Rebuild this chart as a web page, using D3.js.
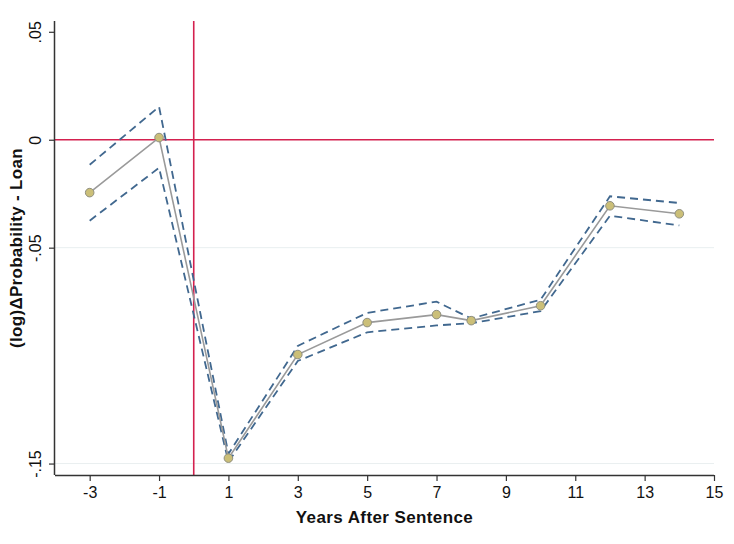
<!DOCTYPE html>
<html>
<head>
<meta charset="utf-8">
<script src="https://cdn.jsdelivr.net/npm/d3@7"></script>
<style>
  html, body { margin: 0; padding: 0; background: #fff; }
  svg { display: block; font-family: "Liberation Sans", Arial, Helvetica, sans-serif; }
</style>
</head>
<body>
<svg id="chart" width="734" height="544"></svg>
<script>
// Event-study estimates: years relative to sentence, point estimate, 95% CI
const years    = [-3, -1, 1, 3, 5, 7, 8, 10, 12, 14];
const estimate = [-0.0245, 0.0010, -0.1475, -0.0995, -0.0847, -0.0810, -0.0838, -0.0769, -0.0306, -0.0343];
const ciUpper  = [-0.0116, 0.0153, -0.1455, -0.0955, -0.0802, -0.0750, -0.0828, -0.0741, -0.0262, -0.0293];
const ciLower  = [-0.0375, -0.0130, -0.1492, -0.1025, -0.0892, -0.0860, -0.0850, -0.0794, -0.0352, -0.0397];

const xTicks = [-3, -1, 1, 3, 5, 7, 9, 11, 13, 15];
const yTicks = [0.05, 0, -0.05, -0.15];
const yTickLabels = [".05", "0", "-.05", "-.15"];
const yGrid = [-0.05, -0.15];

const svg = d3.select("#chart");
const plotLeft = 55, plotRight = 714, plotTop = 21, plotBottom = 475;

const x = d3.scaleLinear().domain([-4, 15]).range([plotLeft, plotRight]);
const y = d3.scaleLinear().domain([-0.1553, 0.0550]).range([plotBottom, plotTop]);

// light gridlines
svg.append("g").selectAll("line").data(yGrid).join("line")
  .attr("x1", plotLeft).attr("x2", plotRight)
  .attr("y1", d => y(d)).attr("y2", d => y(d))
  .attr("stroke", "#e9eff0").attr("stroke-width", 1);

// reference lines at zero
svg.append("line")
  .attr("x1", plotLeft).attr("x2", plotRight)
  .attr("y1", y(0)).attr("y2", y(0))
  .attr("stroke", "#d4214f").attr("stroke-width", 1.6);
svg.append("line")
  .attr("x1", x(0)).attr("x2", x(0))
  .attr("y1", plotTop).attr("y2", plotBottom)
  .attr("stroke", "#d4214f").attr("stroke-width", 1.6);

// confidence bounds
const seriesLine = vals => d3.line().x((d, i) => x(years[i])).y(d => y(d))(vals);
[ciUpper, ciLower].forEach(vals => {
  svg.append("path")
    .attr("d", seriesLine(vals))
    .attr("fill", "none")
    .attr("stroke", "#41688f")
    .attr("stroke-width", 1.8)
    .attr("stroke-dasharray", "8,5");
});

// point estimates
svg.append("path")
  .attr("d", seriesLine(estimate))
  .attr("fill", "none")
  .attr("stroke", "#9a9a9a")
  .attr("stroke-width", 1.6);

svg.append("g").selectAll("circle").data(estimate).join("circle")
  .attr("cx", (d, i) => x(years[i]))
  .attr("cy", d => y(d))
  .attr("r", 4.3)
  .attr("fill", "#cbbf78")
  .attr("stroke", "#8f8f80")
  .attr("stroke-width", 1);

// x axis
const xAxis = svg.append("g")
  .attr("transform", `translate(0,${plotBottom})`)
  .call(d3.axisBottom(x).tickValues(xTicks).tickFormat(d => String(d))
    .tickSize(6).tickSizeOuter(0).tickPadding(6));
xAxis.select(".domain").attr("stroke", "#333").attr("stroke-width", 1.5)
  .attr("d", `M${plotLeft},0.5H${plotRight}`);
xAxis.selectAll(".tick line").attr("stroke", "#333").attr("stroke-width", 1.2);
xAxis.selectAll(".tick text").attr("font-size", 16).attr("fill", "#111")
  .style("font-family", "Liberation Sans, Arial, sans-serif");

// y axis
const yAxis = svg.append("g")
  .attr("transform", `translate(${plotLeft},0)`)
  .call(d3.axisLeft(y).tickValues(yTicks)
    .tickFormat((d, i) => yTickLabels[i]).tickSize(6).tickSizeOuter(0));
yAxis.select(".domain").attr("stroke", "#333").attr("stroke-width", 1.5)
  .attr("d", `M-0.5,${plotTop}V${plotBottom}`);
yAxis.selectAll(".tick line").attr("stroke", "#333").attr("stroke-width", 1.2);
yAxis.selectAll(".tick text")
  .attr("font-size", 16).attr("fill", "#111")
  .attr("text-anchor", "middle")
  .attr("x", null).attr("dy", null)
  .attr("transform", "translate(-14,0) rotate(-90)")
  .style("font-family", "Liberation Sans, Arial, sans-serif");

// axis titles
svg.append("text")
  .attr("x", (plotLeft + plotRight) / 2).attr("y", 523)
  .attr("text-anchor", "middle")
  .attr("font-size", 17).attr("font-weight", "bold").attr("fill", "#111")
  .attr("letter-spacing", 0.4)
  .text("Years After Sentence");

svg.append("text")
  .attr("transform", `translate(22,${(plotTop + plotBottom) / 2}) rotate(-90)`)
  .attr("text-anchor", "middle")
  .attr("font-size", 17).attr("font-weight", "bold").attr("fill", "#111")
  .attr("letter-spacing", 0.3)
  .text("(log)ΔProbability - Loan");
</script>
</body>
</html>
